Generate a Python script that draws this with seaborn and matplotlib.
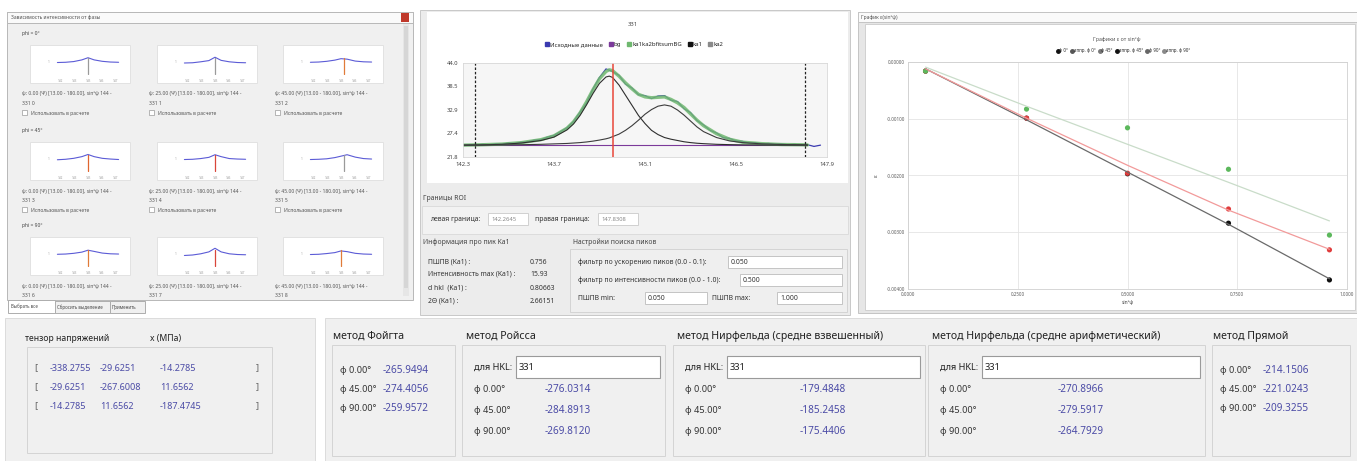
import matplotlib
matplotlib.use("Agg")
import pandas as pd
import matplotlib.pyplot as plt
import seaborn as sns
from matplotlib.patches import Rectangle
from matplotlib.lines import Line2D

sns.set_style("white")
plt.rcParams['font.family'] = ['Noto Sans', 'DejaVu Sans']

W, H = 1357, 461

# --- spectrum of reflection 331 ---
fit_x = [142.3, 142.6, 142.9, 143.2, 143.5, 143.7, 143.9, 144.0, 144.1, 144.2, 144.3, 144.4,
         144.5, 144.55, 144.6, 144.7, 144.8, 144.9, 145.0, 145.1, 145.2, 145.3, 145.4, 145.5,
         145.6, 145.7, 145.8, 145.9, 146.0, 146.2, 146.4, 146.6, 146.9, 147.2, 147.5, 147.6]
ka1_y = [24.6, 24.65, 24.8, 25.1, 25.7, 26.5, 28.2, 29.6, 31.6, 34.1, 36.8, 39.2,
         40.7, 40.9, 40.6, 38.8, 36.4, 34.0, 31.6, 29.7, 28.1, 27.1, 26.4, 26.0,
         25.7, 25.4, 25.2, 25.05, 24.95, 24.8, 24.72, 24.67, 24.63, 24.6, 24.6, 24.6]
ka2_y = [24.6, 24.62, 24.65, 24.7, 24.8, 24.9, 25.0, 25.1, 25.2, 25.35, 25.55, 25.8,
         26.1, 26.3, 26.6, 27.2, 28.1, 29.2, 30.5, 31.9, 33.0, 33.8, 34.1, 33.8,
         32.9, 31.7, 30.3, 28.9, 27.8, 26.4, 25.6, 25.2, 24.9, 24.75, 24.7, 24.65]
sum_y = [24.6, 24.7, 24.85, 25.2, 25.9, 26.8, 28.6, 30.1, 32.2, 34.8, 37.7, 40.3,
         42.0, 42.4, 42.2, 40.9, 39.3, 37.9, 36.6, 36.0, 35.8, 35.9, 36.0, 35.4,
         34.6, 33.5, 32.0, 30.5, 29.2, 27.3, 26.0, 25.3, 24.95, 24.75, 24.7, 24.65]
bg_x = [142.3, 147.6]
bg_y = [24.6, 24.6]
raw_x = [142.3, 142.4, 142.5, 142.6, 142.7, 142.8, 142.9, 143.0, 143.1, 143.2, 143.3, 143.4,
         143.5, 143.6, 143.7, 143.8, 143.9, 144.0, 144.1, 144.2, 144.3, 144.4, 144.5, 144.6,
         144.7, 144.8, 144.9, 145.0, 145.1, 145.2, 145.3, 145.4, 145.5, 145.6, 145.7, 145.8,
         145.9, 146.0, 146.1, 146.2, 146.3, 146.4, 146.5, 146.6, 146.7, 146.8, 146.9, 147.0,
         147.1, 147.2, 147.3, 147.4, 147.5, 147.6, 147.7, 147.8]
raw_y = [24.5, 24.7, 24.6, 24.8, 24.7, 24.9, 24.8, 25.1, 25.0, 25.3, 25.4, 25.8,
         25.9, 26.5, 26.9, 27.8, 28.7, 30.2, 32.4, 34.6, 37.9, 40.6, 42.6, 42.0,
         41.1, 39.0, 38.1, 36.5, 36.3, 35.6, 36.2, 36.3, 35.2, 34.9, 33.2, 32.3,
         30.4, 29.4, 28.1, 27.5, 26.4, 26.2, 25.6, 25.5, 25.1, 25.2, 24.9, 25.0,
         24.8, 24.9, 24.7, 24.8, 24.6, 24.7, 24.3, 24.6]
roi_left, roi_right = 142.48, 147.56
roi_left_text, roi_right_text = "142.2645", "147.8308"
peak_pos = 144.61
spec_xticks = [142.3, 143.7, 145.1, 146.5, 147.9]
spec_yticks = [21.8, 27.4, 32.9, 38.5, 44.0]

# --- epsilon vs sin^2(psi) ---
sin2psi = [0.04, 0.27, 0.50, 0.73, 0.96]
eps_phi0 = [-0.00016, -0.00099, -0.00197, -0.00284, -0.00384]
eps_phi45 = [-0.00016, -0.00099, -0.00196, -0.00259, -0.00331]
eps_phi90 = [-0.00016, -0.00083, -0.00116, -0.00189, -0.00305]
fit_phi0 = [-0.00012, -0.00102, -0.00194, -0.00286, -0.00382]
fit_phi45 = [-0.00012, -0.00099, -0.00182, -0.00261, -0.00330]
fit_phi90 = [-0.00009, -0.00078, -0.00145, -0.00212, -0.00280]
eps_xticks = [0.0, 0.25, 0.5, 0.75, 1.0]
eps_yticks = [-0.004, -0.003, -0.002, -0.001, 0.0]

# --- thumbnails (relative intensity) ---
thumb_x = [0.05, 0.17, 0.29, 0.41, 0.50, 0.59, 0.71, 0.83, 0.95]
thumb_profiles = [
    [0.52, 0.53, 0.56, 0.63, 0.72, 0.63, 0.57, 0.54, 0.53],
    [0.50, 0.51, 0.55, 0.60, 0.74, 0.61, 0.55, 0.52, 0.51],
    [0.53, 0.54, 0.57, 0.62, 0.68, 0.66, 0.58, 0.55, 0.54],
    [0.51, 0.53, 0.57, 0.64, 0.73, 0.64, 0.57, 0.54, 0.52],
    [0.52, 0.53, 0.56, 0.61, 0.72, 0.64, 0.56, 0.54, 0.53],
    [0.52, 0.53, 0.55, 0.60, 0.66, 0.72, 0.62, 0.56, 0.54],
    [0.53, 0.54, 0.57, 0.62, 0.70, 0.65, 0.58, 0.55, 0.54],
    [0.48, 0.50, 0.55, 0.63, 0.78, 0.63, 0.55, 0.52, 0.51],
    [0.52, 0.53, 0.56, 0.60, 0.67, 0.64, 0.57, 0.54, 0.53],
]
thumb_marks = [0.50, 0.50, 0.55, 0.50, 0.50, 0.55, 0.50, 0.50, 0.50]
thumb_mark_colors = ['#9a9a9a', '#9a9a9a', '#e07b39', '#e0662f', '#d9463a', '#9a9a9a',
                     '#e07b39', '#d9463a', '#e07b39']
phi_rows = [0, 45, 90]
psi_cols = [0.00, 25.00, 45.00]

# --- stress results, MPa ---
tensor_row1 = [-338.2755, -29.6251, -14.2785]
tensor_row2 = [-29.6251, -267.6008, 11.6562]
tensor_row3 = [-14.2785, 11.6562, -187.4745]
phi_angles = [0.00, 45.00, 90.00]
voigt = [-265.9494, -274.4056, -259.9572]
reuss = [-276.0314, -284.8913, -269.8120]
neerfeld_w = [-179.4848, -185.2458, -175.4406]
neerfeld_a = [-270.8966, -279.5917, -264.7929]
direct = [-214.1506, -221.0243, -209.3255]
hkl = "331"

fig = plt.figure(figsize=(W / 100, H / 100), dpi=100)
base = fig.add_axes([0, 0, 1, 1])
base.set_xlim(0, W)
base.set_ylim(H, 0)
base.axis('off')


def px_axes(x0, y0, x1, y1):
    return fig.add_axes([x0 / W, 1 - y1 / H, (x1 - x0) / W, (y1 - y0) / H])


def rect(x0, y0, x1, y1, fc='none', ec='#c8c8c8', lw=0.7, z=1):
    base.add_patch(Rectangle((x0, y0), x1 - x0, y1 - y0, facecolor=fc, edgecolor=ec, linewidth=lw, zorder=z))


def label(x, y, s, size=6, color='#303030', ha='left', **kw):
    base.text(x, y, s, fontsize=size, color=color, va='center', ha=ha, zorder=5, **kw)


BLUE = '#4b4ba6'
SMALL = 4.9
TINY = 3.6

# ===== panel A: thumbnails window =====
rect(7, 12, 413, 300, fc='#f0f0f0', ec='#b8b8b8')
rect(7, 12, 413, 23, fc='#fafafa', ec='#b8b8b8')
label(11, 17.5, "Зависимость интенсивности от фазы", size=3.6, color='#555555')
rect(401, 13, 409, 22, fc='#c0392b', ec='none', z=2)
rect(403, 24, 409, 296, fc='#e6e6e6', ec='none', z=2)
rect(404, 26, 408, 288, fc='#d6d6d6', ec='none', z=2)

row_tops = [45, 142, 237]
col_lefts = [30, 157, 283]
row_label_y = [33, 130, 225]
for r, phi in enumerate(phi_rows):
    label(22, row_label_y[r], f"phi = {phi}°", size=TINY, color='#444444')
    for c, psi in enumerate(psi_cols):
        k = r * 3 + c
        x0, y0 = col_lefts[c], row_tops[r]
        rect(x0, y0, x0 + 100, y0 + 38, fc='white', ec='#e2e2e2', z=2)
        ta = px_axes(x0 + 24, y0 + 6, x0 + 92, y0 + 30)
        sns.lineplot(x=thumb_x, y=thumb_profiles[k], ax=ta, color='#5b5bd6', linewidth=0.8)
        ta.axvline(thumb_marks[k], ymin=0.05, ymax=0.7, color=thumb_mark_colors[k], lw=0.9)
        ta.set_xlim(0, 1)
        ta.set_ylim(0, 1)
        ta.set_xticks([0.1, 0.3, 0.5, 0.7, 0.9])
        ta.set_xticklabels(['142', '143', '145', '146', '147'])
        ta.set_yticks([0.55])
        ta.set_yticklabels(['1'])
        ta.tick_params(labelsize=2.2, colors='#9a9a9a', length=0, pad=3)
        ta.set_facecolor('white')
        for s in ta.spines.values():
            s.set_visible(False)
        label(x0 - 8, y0 + 49, f"ψ: {psi:.2f} (Ψ) [13.00 - 180.00], sin²ψ 144 -", size=TINY, color='#555555')
        label(x0 - 8, y0 + 58, f"331 {k}", size=TINY, color='#555555')
        if r < 2:
            rect(x0 - 8, y0 + 65, x0 - 3, y0 + 70, fc='white', ec='#9a9a9a', lw=0.5, z=2)
            label(x0 + 1, y0 + 68, "Использовать в расчете", size=TINY, color='#555555')

# tabs
rect(8, 300, 55, 313, fc='white', ec='#adadad')
label(11, 306.5, "Выбрать все", size=3.2, color='#444444')
rect(55, 301, 110, 313, fc='#f0f0f0', ec='#adadad')
label(57, 307, "Сбросить выделение", size=3.2, color='#444444')
rect(110, 301, 145, 313, fc='#f0f0f0', ec='#adadad')
label(112, 307, "Применить", size=3.2, color='#444444')

# ===== panel B: peak fit =====
rect(420, 10, 850, 315, fc='#ececec', ec='#c8c8c8')
rect(427, 12, 848, 183, fc='white', ec='none')
label(633, 25, hkl, size=4.2, color='#444444', ha='center')

ax = px_axes(463, 63, 827, 157)
sns.lineplot(x=raw_x, y=raw_y, ax=ax, color='#3a3ab0', linewidth=0.9)
sns.lineplot(x=bg_x, y=bg_y, ax=ax, color='#7b3a9a', linewidth=0.8)
sns.lineplot(x=fit_x, y=sum_y, ax=ax, color='#6fb86f', linewidth=2.4, alpha=0.85)
sns.lineplot(x=fit_x, y=ka1_y, ax=ax, color='#2e2e2e', linewidth=0.8)
sns.lineplot(x=fit_x, y=ka2_y, ax=ax, color='#3c3c3c', linewidth=0.8)
ax.axvline(roi_left, color='#222222', lw=0.9, ls=(0, (2, 1.5)))
ax.axvline(roi_right, color='#222222', lw=0.9, ls=(0, (2, 1.5)))
ax.axvline(peak_pos, color='#e8463a', lw=1.1)
ax.set_xlim(spec_xticks[0], spec_xticks[-1])
ax.set_ylim(spec_yticks[0], spec_yticks[-1])
ax.set_xticks(spec_xticks)
ax.set_xticklabels([f"{v:.1f}" for v in spec_xticks])
ax.set_yticks(spec_yticks)
ax.set_yticklabels([f"{v:.1f}" for v in spec_yticks])
ax.tick_params(labelsize=4.2, colors='#444444', length=2, width=0.5, pad=1.5)
ax.set_facecolor('#f6f6f6')
for s in ax.spines.values():
    s.set_color('#d8d8d8')
    s.set_linewidth(0.6)
spec_handles = [Line2D([], [], marker='s', ls='', color=c, markersize=3.4) for c in
                ['#3a3ab0', '#7b3a9a', '#6fb86f', '#111111', '#8a8a8a']]
ax.legend(spec_handles, ["Исходные данные", "bg", "ka1ka2bfitsumBG", "ka1", "ka2"],
          loc='center', bbox_to_anchor=(0.47, 1.2), ncol=5, fontsize=4.3, frameon=False,
          handletextpad=0.1, columnspacing=0.9, handlelength=0.8)

label(423, 198, "Границы ROI", size=SMALL, color='#444444')
rect(422, 206, 848, 234, fc='#f2f2f2', ec='#dcdcdc')
label(430, 219, "левая граница:", size=SMALL, color='#333333')
rect(488, 213, 528, 225, fc='white', ec='#d0d0d0')
label(491, 219, roi_left_text, size=4.2, color='#888888')
label(535, 219, "правая граница:", size=SMALL, color='#333333')
rect(598, 213, 638, 225, fc='white', ec='#d0d0d0')
label(601, 219, roi_right_text, size=4.2, color='#888888')

label(423, 242, "Информация про пик Ka1", size=SMALL, color='#444444')
info_labels = ["ПШПВ (Ka1) :", "Интенсивность max (Ka1) :", "d hkl  (Ka1) :", "2Θ (Ka1) :"]
info_values = ["0.756", "15.93", "0.80663", "2.66151"]
for yy, t, v in zip([262, 274, 288, 301], info_labels, info_values):
    label(428, yy, t, size=SMALL, color='#333333')
    label(530, yy, v, size=SMALL, color='#333333')

label(573, 242, "Настройки поиска пиков", size=SMALL, color='#444444')
rect(570, 249, 847, 312, fc='#efefef', ec='#d4d4d4')
label(578, 262, "фильтр по ускорению пиков (0.0 - 0.1):", size=SMALL, color='#333333')
rect(728, 256, 842, 268, fc='white', ec='#c4c4c4')
label(731, 262, "0.050", size=SMALL, color='#333333')
label(578, 280, "фильтр по интенсивности пиков (0.0 - 1.0):", size=SMALL, color='#333333')
rect(740, 274, 842, 286, fc='white', ec='#c4c4c4')
label(743, 280, "0.500", size=SMALL, color='#333333')
label(578, 298, "ПШПВ min:", size=SMALL, color='#333333')
rect(645, 292, 707, 304, fc='white', ec='#c4c4c4')
label(648, 298, "0.050", size=SMALL, color='#333333')
label(712, 298, "ПШПВ max:", size=SMALL, color='#333333')
rect(777, 292, 842, 304, fc='white', ec='#c4c4c4')
label(780, 298, "1.000", size=SMALL, color='#333333')

# ===== panel C: epsilon vs sin^2 psi =====
rect(858, 12, 1357, 313, fc='#e6e6e6', ec='#c4c4c4')
rect(858, 12, 1357, 22, fc='#fafafa', ec='#c4c4c4')
label(861, 17, "График ε(sin²ψ)", size=3.6, color='#555555')
rect(865, 24, 1355, 310, fc='white', ec='#d0d0d0')
label(1117, 39, "Графики ε от sin²ψ", size=3.8, color='#555555', ha='center')

axr = px_axes(908, 62, 1347, 289)
fits = pd.DataFrame({
    'x': sin2psi * 3,
    'eps': fit_phi0 + fit_phi45 + fit_phi90,
    'series': ['0'] * 5 + ['45'] * 5 + ['90'] * 5,
})
pts = pd.DataFrame({
    'x': sin2psi * 3,
    'eps': eps_phi0 + eps_phi45 + eps_phi90,
    'series': ['0'] * 5 + ['45'] * 5 + ['90'] * 5,
})
sns.lineplot(data=fits, x='x', y='eps', hue='series', palette=['#6a6a6a', '#f29a9a', '#c9dcc9'],
             linewidth=0.9, legend=False, ax=axr)
sns.scatterplot(data=pts, x='x', y='eps', hue='series', palette=['#111111', '#e03c3c', '#5cb85c'],
                s=14, edgecolor='none', legend=False, ax=axr)
axr.set_xlim(eps_xticks[0], eps_xticks[-1])
axr.set_ylim(eps_yticks[0], eps_yticks[-1])
axr.set_xticks(eps_xticks)
axr.set_xticklabels([f"{v:.4f}" for v in eps_xticks])
axr.set_yticks(eps_yticks)
axr.set_yticklabels([f"{v:.5f}" for v in eps_yticks])
axr.tick_params(labelsize=3.2, colors='#555555', length=0, pad=2)
axr.grid(True, color='#e4e4e4', lw=0.6)
for s in axr.spines.values():
    s.set_color('#d0d0d0')
    s.set_linewidth(0.6)
axr.set_xlabel("sin²ψ", fontsize=3.6, color='#444444', labelpad=2)
axr.set_ylabel("ε", fontsize=4.2, color='#444444', labelpad=6)
eps_handles = [Line2D([], [], marker='o', ls='', color=c, markersize=2.5) for c in
               ['#111111', '#555555', '#777777', '#111111', '#666666', '#888888']]
axr.legend(eps_handles, ["φ 0°", "аппр. φ 0°", "φ 45°", "аппр. φ 45°", "φ 90°", "аппр. φ 90°"],
           loc='center', bbox_to_anchor=(0.49, 1.05), ncol=6, fontsize=3.2, frameon=False,
           handletextpad=0.1, columnspacing=0.6, handlelength=0.6)

# ===== panel D: stress tensor =====
rect(5, 318, 315, 461, fc='#f0f0f0', ec='#dcdcdc')
label(25, 338, "тензор напряжений", size=6.2, color='#222222')
label(150, 338, "x (МПа)", size=6.2, color='#222222')
rect(27, 347, 272, 453, fc='#f0f0f0', ec='#d4d4d4')
for yy, row in zip([368, 387, 406], [tensor_row1, tensor_row2, tensor_row3]):
    label(34, yy, "[", size=6.8, color='#666666')
    label(256, yy, "]", size=6.8, color='#666666')
    for xx, v in zip([50, 100, 160], row):
        label(xx, yy, f"{v:.4f}", size=6.5, color=BLUE)

# ===== panel E: methods =====
rect(325, 318, 1357, 461, fc='#f0f0f0', ec='#dcdcdc')
TITLE = 7.6


def simple_block(x0, x1, title, vals):
    label(x0 + 1, 336, title, size=TITLE, color='#222222')
    rect(x0, 345, x1, 456, fc='#f0f0f0', ec='#d4d4d4')
    for yy, a, v in zip([370, 389, 408], phi_angles, vals):
        label(x0 + 8, yy, f"ϕ {a:.2f}°", size=6.6, color='#333333')
        label(x0 + 51, yy, f"{v:.4f}", size=7.2, color=BLUE)


def hkl_block(x0, x1, title, vals, vx):
    label(x0 + 4, 336, title, size=TITLE, color='#222222')
    rect(x0, 345, x1, 456, fc='#f0f0f0', ec='#d4d4d4')
    label(x0 + 12, 367, "для HKL:", size=6.6, color='#222222')
    rect(x0 + 54, 356, x1 - 5, 378, fc='white', ec='#9a9a9a', lw=0.8)
    label(x0 + 57, 367, hkl, size=6.8, color='#222222')
    for yy, a, v in zip([389, 410, 431], phi_angles, vals):
        label(x0 + 12, yy, f"ϕ {a:.2f}°", size=6.6, color='#333333')
        label(vx, yy, f"{v:.4f}", size=7.2, color=BLUE)


simple_block(332, 455, "метод Фойгта", voigt)
hkl_block(462, 665, "метод Ройсса", reuss, 545)
hkl_block(673, 925, "метод Нирфельда (средне взвешенный)", neerfeld_w, 800)
hkl_block(928, 1205, "метод Нирфельда (средне арифметический)", neerfeld_a, 1058)
simple_block(1212, 1350, "метод Прямой", direct)

fig.savefig("out.png", dpi=100)
